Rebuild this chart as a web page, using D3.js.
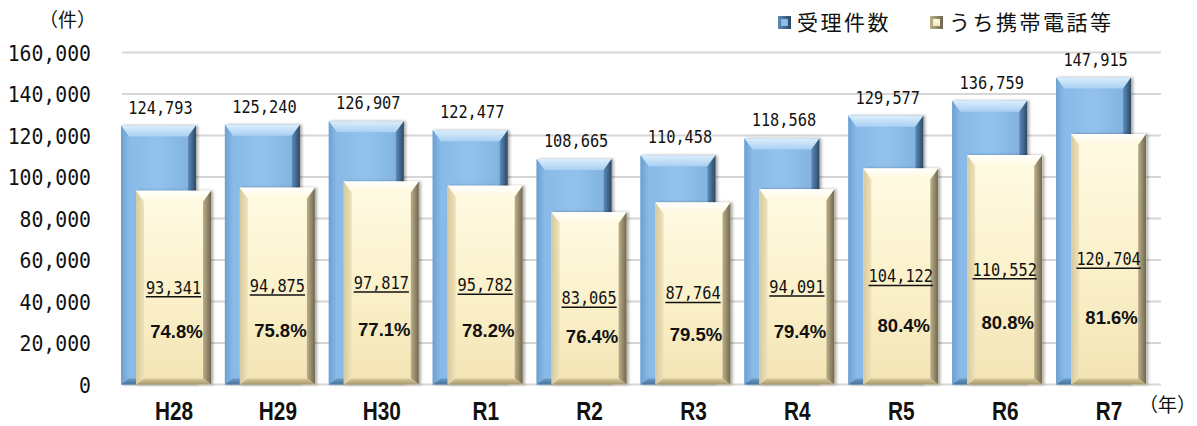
<!DOCTYPE html>
<html>
<head>
<meta charset="utf-8">
<script src="https://cdn.jsdelivr.net/npm/d3@7/dist/d3.min.js"></script>
<style>
  html, body { margin: 0; padding: 0; background: #fff; }
  svg { display: block; }
</style>
</head>
<body>
<script>
// Fiscal years
const years = ["H28", "H29", "H30", "R1", "R2", "R3", "R4", "R5", "R6", "R7"];
// Total cases received
const totalCases = [124793, 125240, 126907, 122477, 108665, 110458, 118568, 129577, 136759, 147915];
// Of which: mobile phones etc.
const mobileCases = [93341, 94875, 97817, 95782, 83065, 87764, 94091, 104122, 110552, 120704];
// Y axis ticks
const yTicks = [0, 20000, 40000, 60000, 80000, 100000, 120000, 140000, 160000];
const seriesNames = ["受理件数", "うち携帯電話等"];

const W = 1197, H = 426;
const svg = d3.select("body").append("svg").attr("width", W).attr("height", H);
const defs = svg.append("defs");

const x = d3.scaleBand().domain(years).range([122, 1161]).padding(0);
const y = d3.scaleLinear().domain([0, 160000]).range([384.5, 52.5]);

const fmt = d3.format(",");

// horizontally condensed text anchored at (cx, cy)
function squeeze(sel, cx, cy, sx, sy) {
  return sel.attr("x", 0).attr("y", 0)
    .attr("transform", `translate(${cx},${cy}) scale(${sx},${sy})`);
}

// Gradients for bevelled bars
function linGrad(id, x1, y1, x2, y2, stops) {
  const g = defs.append("linearGradient").attr("id", id)
    .attr("x1", x1).attr("y1", y1).attr("x2", x2).attr("y2", y2);
  stops.forEach(([o, c]) => g.append("stop").attr("offset", o).attr("stop-color", c));
}
// blue
linGrad("bFace", 0, 0, 1, 0, [[0, "#86b8e6"], [0.5, "#92c2ec"], [1, "#7fb0de"]]);
linGrad("bTop", 0, 0, 0, 1, [[0, "#dceefc"], [1, "#a9d0f2"]]);
linGrad("bRight", 0, 0, 1, 0, [[0, "#5f8cb8"], [1, "#2b4866"]]);
linGrad("bLeft", 0, 0, 1, 0, [[0, "#6c9fd0"], [1, "#88bae8"]]);
linGrad("bBottom", 0, 0, 0, 1, [[0, "#6a9ac8"], [1, "#4a7299"]]);
// cream
linGrad("yFace", 0, 0, 0, 1, [[0, "#fffbe4"], [0.5, "#fbf1cc"], [1, "#f3e4b4"]]);
linGrad("yTop", 0, 0, 0, 1, [[0, "#ffffff"], [1, "#fff8dc"]]);
linGrad("yRight", 0, 0, 1, 0, [[0, "#bdb08a"], [1, "#6e6650"]]);
linGrad("yLeft", 0, 0, 1, 0, [[0, "#d8caa0"], [1, "#efe2b8"]]);
linGrad("yBottom", 0, 0, 0, 1, [[0, "#d9c998"], [1, "#a8996e"]]);

const shadow = defs.append("filter").attr("id", "shadow")
  .attr("x", "-20%").attr("y", "-10%").attr("width", "140%").attr("height", "120%");
shadow.append("feDropShadow").attr("dx", 2).attr("dy", 0).attr("stdDeviation", 1.5)
  .attr("flood-color", "#000").attr("flood-opacity", 0.35);

// Gridlines
svg.append("g").selectAll("line").data(yTicks).join("line")
  .attr("x1", 122).attr("x2", 1161)
  .attr("y1", d => y(d)).attr("y2", d => y(d))
  .attr("stroke", "#d6d6d6").attr("stroke-width", 2);

// Y axis labels
svg.append("g").selectAll("text").data(yTicks).join("text")
  .each(function (d) { squeeze(d3.select(this), 91, y(d) + 8, 0.9, 1); })
  .attr("text-anchor", "end")
  .attr("font-family", "DejaVu Sans Mono, monospace").attr("font-size", 22)
  .attr("fill", "#111")
  .text(d => fmt(d));

svg.append("text").attr("x", 96).attr("y", 27).attr("text-anchor", "end")
  .attr("font-family", "Noto Sans CJK JP").attr("font-size", 19).attr("fill", "#111")
  .text("（件）");
svg.append("text").attr("x", 1196).attr("y", 412).attr("text-anchor", "end")
  .attr("font-family", "Noto Sans CJK JP").attr("font-size", 19).attr("fill", "#111")
  .text("（年）");

// Bevelled bar
function bevelBar(g, x0, w, yTop, yBase, prefix) {
  const h = yBase - yTop;
  const bt = Math.min(11, h / 2), bs = 8, bb = 6;
  const x1 = x0 + w;
  g.append("rect").attr("x", x0).attr("y", yTop).attr("width", w).attr("height", h)
    .attr("fill", `url(#${prefix}Face)`).attr("filter", "url(#shadow)");
  g.append("polygon").attr("points", [[x0, yTop], [x1, yTop], [x1 - bs, yTop + bt], [x0 + bs, yTop + bt]].join(" "))
    .attr("fill", `url(#${prefix}Top)`);
  g.append("polygon").attr("points", [[x1, yTop], [x1, yBase], [x1 - bs, yBase - bb], [x1 - bs, yTop + bt]].join(" "))
    .attr("fill", `url(#${prefix}Right)`);
  g.append("polygon").attr("points", [[x0, yTop], [x0 + bs, yTop + bt], [x0 + bs, yBase - bb], [x0, yBase]].join(" "))
    .attr("fill", `url(#${prefix}Left)`);
  g.append("polygon").attr("points", [[x0, yBase], [x0 + bs, yBase - bb], [x1 - bs, yBase - bb], [x1, yBase]].join(" "))
    .attr("fill", `url(#${prefix}Bottom)`);
}

const barW = 75, offBlue = -1, offCream = 14;
const bars = svg.append("g");
years.forEach((yr, i) => {
  bevelBar(bars.append("g"), x(yr) + offBlue, barW, y(totalCases[i]), y(0), "b");
});
years.forEach((yr, i) => {
  bevelBar(bars.append("g"), x(yr) + offCream, barW, y(mobileCases[i]), y(0), "y");
});

// Labels
const labels = svg.append("g");
years.forEach((yr, i) => {
  const bx = x(yr);
  const blueC = bx + offBlue + barW / 2 + 2;
  const creamC = bx + offCream + barW / 2;

  squeeze(labels.append("text"), blueC, y(totalCases[i]) - 12, 0.9, 1)
    .attr("text-anchor", "middle")
    .attr("font-family", "DejaVu Sans Mono, monospace").attr("font-size", 17)
    .attr("fill", "#111").text(fmt(totalCases[i]));

  const mid = (y(mobileCases[i]) + y(0)) / 2;
  const t = squeeze(labels.append("text"), creamC, mid + 6, 0.9, 1)
    .attr("text-anchor", "middle")
    .attr("font-family", "DejaVu Sans Mono, monospace").attr("font-size", 17)
    .attr("fill", "#111").text(fmt(mobileCases[i]));
  const bw = t.node().getBBox().width * 0.9;
  labels.append("line").attr("x1", creamC - bw / 2).attr("x2", creamC + bw / 2)
    .attr("y1", mid + 9).attr("y2", mid + 9).attr("stroke", "#111").attr("stroke-width", 1.5);

  const pct = (mobileCases[i] / totalCases[i] * 100).toFixed(1) + "%";
  const py = (mid + y(0)) / 2 - 5;
  labels.append("text").attr("x", creamC + 3).attr("y", py + 7)
    .attr("text-anchor", "middle")
    .attr("font-family", "Liberation Sans, Arial, sans-serif").attr("font-weight", "bold")
    .attr("font-size", 18.5).attr("fill", "#111").text(pct);

  squeeze(labels.append("text"), bx + 52, 420, 0.8, 1)
    .attr("text-anchor", "middle")
    .attr("font-family", "Liberation Sans, Arial, sans-serif").attr("font-weight", "bold")
    .attr("font-size", 26).attr("fill", "#111").text(yr);
});

// Legend
const legend = svg.append("g");
const legendItems = [
  { name: seriesNames[0], x: 778, p: "b" },
  { name: seriesNames[1], x: 930, p: "y" }
];
legendItems.forEach(it => {
  const g = legend.append("g");
  g.append("rect").attr("x", it.x).attr("y", 16).attr("width", 13).attr("height", 13)
    .attr("fill", `url(#${it.p}Right)`);
  g.append("rect").attr("x", it.x + 3).attr("y", 19).attr("width", 7).attr("height", 7)
    .attr("fill", `url(#${it.p}Face)`);
  g.append("text").attr("x", it.x + 19).attr("y", 30)
    .attr("font-family", "Noto Sans CJK JP").attr("font-size", 21)
    .attr("letter-spacing", 2.5).attr("fill", "#111").text(it.name);
});
</script>
</body>
</html>
